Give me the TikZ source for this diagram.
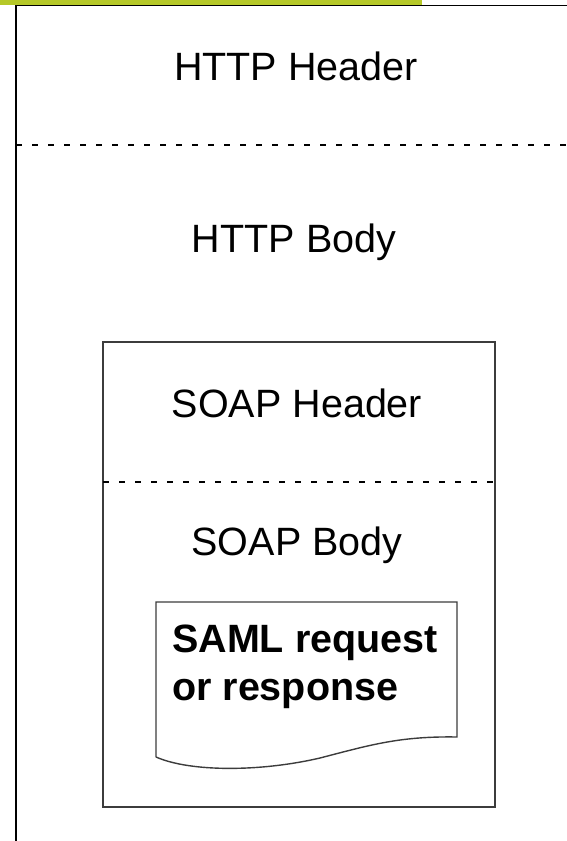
\documentclass[tikz,border=0pt]{standalone}
\usepackage{fontspec}
\setmainfont{Liberation Sans}
\definecolor{barGreen}{RGB}{181,200,40}
\definecolor{boxGray}{RGB}{60,60,60}
\begin{document}
\begin{tikzpicture}[x=1pt,y=-1pt,
  outerline/.style={line width=1.7pt,black},
  innerline/.style={line width=1.4pt,boxGray},
  sepline/.style={line width=1.5pt,dash pattern=on 6pt off 10pt},
  lbl/.style={font=\fontsize{39.5}{46}\selectfont,anchor=base,inner sep=0pt},
  samllbl/.style={font=\fontsize{39.5}{48}\bfseries\selectfont,anchor=base west,inner sep=0pt}]
\useasboundingbox (0,0) rectangle (566,841);
\fill[barGreen] (0,0) rectangle (422,5);
% outer HTTP box
\coordinate (otr) at (570,5.5);
\coordinate (otl) at (16,5.5);
\coordinate (obl) at (16,845);
\draw[outerline] (otr) -- (otl) -- (obl);
\coordinate (hsepl) at (16,145);
\coordinate (hsepr) at (570,145);
\draw[sepline] (hsepl) -- (hsepr);
\node[lbl] (httph) at (296,80) {HTTP Header};
\node[lbl] (httpb) at (294,252) {HTTP Body};
% SOAP box
\coordinate (stl) at (103,342);
\coordinate (sbr) at (495,807);
\draw[innerline] (stl) rectangle (sbr);
\coordinate (ssepl) at (103,482);
\coordinate (ssepr) at (495,482);
\draw[sepline,line width=1.3pt] (ssepl) -- (ssepr);
\node[lbl] (soaph) at (297,417) {SOAP Header};
\node[lbl] (soapb) at (297,555) {SOAP Body};
% SAML document
\coordinate (dtl) at (156,602);
\coordinate (dtr) at (457,602);
\coordinate (dbr) at (457,737);
\coordinate (dbl) at (156,757);
\draw[innerline] (dbl) -- (dtl) -- (dtr) -- (dbr)
  .. controls (400,736) and (370,745) .. (320,758)
  .. controls (260,772) and (190,772) .. (dbl);
\node[samllbl] (saml1) at (172,652) {SAML request};
\node[samllbl] (saml2) at (172,700) {or response};
\end{tikzpicture}
\end{document}
